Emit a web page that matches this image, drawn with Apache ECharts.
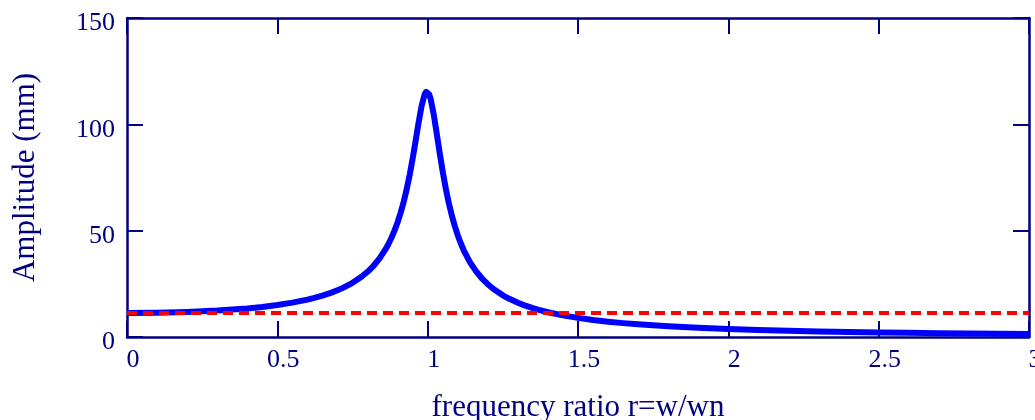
<!DOCTYPE html>
<html>
<head>
<meta charset="utf-8">
<script src="https://cdn.jsdelivr.net/npm/echarts@6/dist/echarts.min.js"></script>
<style>
html,body{margin:0;padding:0;background:#fff;}
#chart{width:1035px;height:420px;}
</style>
</head>
<body>
<div id="chart"></div>
<script>
// Frequency ratio r (x) and response amplitude in mm (y)
const ratio = [0, 0.1, 0.2, 0.3, 0.4, 0.45, 0.5, 0.55, 0.6, 0.62, 0.65, 0.68, 0.7, 0.72, 0.75, 0.78, 0.8, 0.82, 0.84, 0.86, 0.87, 0.88, 0.89, 0.9, 0.91, 0.92, 0.93, 0.94, 0.95, 0.96, 0.97, 0.98, 0.99, 0.995, 1.0, 1.005, 1.01, 1.02, 1.03, 1.04, 1.05, 1.06, 1.07, 1.08, 1.09, 1.1, 1.11, 1.12, 1.14, 1.16, 1.18, 1.2, 1.22, 1.25, 1.27, 1.3, 1.32, 1.35, 1.37, 1.4, 1.45, 1.5, 1.55, 1.6, 1.65, 1.7, 1.8, 1.9, 2.0, 2.1, 2.2, 2.3, 2.4, 2.5, 2.6, 2.7, 2.8, 2.9, 3.0];
const amplitude = [11.3, 11.41, 11.77, 12.41, 13.44, 14.15, 15.03, 16.15, 17.58, 18.27, 19.45, 20.86, 21.96, 23.22, 25.47, 28.32, 30.67, 33.5, 36.96, 41.29, 43.86, 46.79, 50.12, 53.95, 58.35, 63.44, 69.34, 76.12, 83.82, 92.27, 100.95, 108.77, 114.1, 115.28, 115.31, 114.14, 111.88, 104.81, 95.85, 86.55, 77.8, 69.99, 63.18, 57.3, 52.24, 47.87, 44.08, 40.78, 35.34, 31.06, 27.62, 24.81, 22.47, 19.63, 18.07, 16.1, 14.99, 13.56, 12.74, 11.65, 10.17, 8.98, 8.01, 7.21, 6.53, 5.96, 5.03, 4.32, 3.76, 3.31, 2.94, 2.63, 2.37, 2.15, 1.96, 1.79, 1.65, 1.52, 1.41];
// Horizontal dashed reference line (static amplitude)
const refX = [0, 3];
const refY = [11.3, 11.3];
// Tick values
const xTicks = [0, 0.5, 1, 1.5, 2, 2.5, 3];
const yTicks = [0, 50, 100, 150];

const navy = '#000080';
const fontFam = "'Liberation Serif', 'Times New Roman', serif";

const curve = ratio.map((r, i) => [r, amplitude[i]]);
const ref = refX.map((x, i) => [x, refY[i]]);

const xBase = {
  type: 'value',
  min: xTicks[0], max: xTicks[xTicks.length - 1], interval: xTicks[1] - xTicks[0],
  axisLine: { show: true, onZero: false, lineStyle: { color: navy, width: 2.5 } },
  axisTick: { show: true, inside: true, length: 16, lineStyle: { color: navy, width: 2 } },
  splitLine: { show: false }
};
const yBase = {
  type: 'value',
  min: yTicks[0], max: yTicks[yTicks.length - 1], interval: yTicks[1] - yTicks[0],
  axisLine: { show: true, onZero: false, lineStyle: { color: navy, width: 2.5 } },
  axisTick: { show: true, inside: true, length: 16, lineStyle: { color: navy, width: 2 } },
  splitLine: { show: false }
};

const chart = echarts.init(document.getElementById('chart'), null, { renderer: 'canvas' });
chart.setOption({
  animation: false,
  backgroundColor: '#fff',
  grid: { left: 127, right: 6, top: 18, bottom: 83, containLabel: false, outerBoundsMode: 'none' },
  xAxis: [
    Object.assign({}, xBase, {
      position: 'bottom',
      name: 'frequency ratio r=w/wn',
      nameLocation: 'middle',
      nameGap: 55,
      nameTextStyle: { color: navy, fontFamily: fontFam, fontSize: 31 },
      axisLabel: { color: navy, fontFamily: fontFam, fontSize: 26, margin: 10, padding: [0, 0, 0, 12], hideOverlap: false }
    }),
    Object.assign({}, xBase, { position: 'top', axisLabel: { show: false } })
  ],
  yAxis: [
    Object.assign({}, yBase, {
      position: 'left',
      name: 'Amplitude (mm)',
      nameLocation: 'middle',
      nameGap: 86,
      nameRotate: 90,
      nameTextStyle: { color: navy, fontFamily: fontFam, fontSize: 31 },
      axisLabel: { color: navy, fontFamily: fontFam, fontSize: 26, margin: 12, verticalAlign: 'top', lineHeight: 11 }
    }),
    Object.assign({}, yBase, { position: 'right', axisLabel: { show: false } })
  ],
  series: [
    {
      type: 'line',
      data: curve,
      xAxisIndex: 0, yAxisIndex: 0,
      showSymbol: false,
      smooth: false,
      clip: true,
      lineStyle: { color: '#0000ff', width: 6, join: 'round', cap: 'butt' },
      z: 3
    },
    {
      type: 'line',
      data: ref,
      xAxisIndex: 0, yAxisIndex: 0,
      showSymbol: false,
      clip: true,
      lineStyle: { color: '#ff0000', width: 4, type: [10, 6] },
      z: 4
    }
  ]
});
</script>
</body>
</html>
